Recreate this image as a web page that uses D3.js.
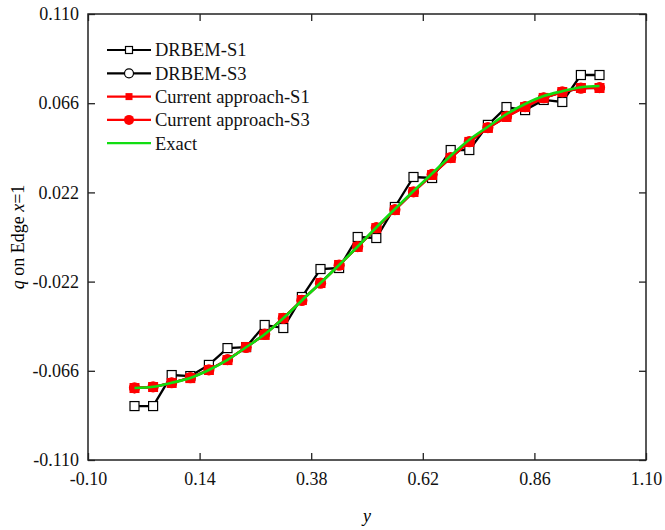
<!DOCTYPE html>
<html>
<head>
<meta charset="utf-8">
<script src="https://cdn.jsdelivr.net/npm/d3@7"></script>
<style>
  body { margin: 0; background: #fff; }
  svg { font-family: "Liberation Serif", "Times New Roman", serif; }
  .axis path { display: none; }
  .axis line { stroke: #222; stroke-width: 1.3; }
  .axis text { font-size: 18px; fill: #111; font-family: "Liberation Serif", "Times New Roman", serif; }
</style>
</head>
<body>
<svg width="665" height="530"></svg>
<script>
// sample points along the edge
var ys = [0, 0.04, 0.08, 0.12, 0.16, 0.20, 0.24, 0.28, 0.32, 0.36, 0.40, 0.44, 0.48,
          0.52, 0.56, 0.60, 0.64, 0.68, 0.72, 0.76, 0.80, 0.84, 0.88, 0.92, 0.96, 1.00];

var drbemS1 = [-0.0834, -0.0834, -0.0681, -0.0686, -0.0631, -0.0548, -0.0543, -0.0434, -0.0449,
               -0.0296, -0.0158, -0.0153, 0.0000, -0.0005, 0.0148, 0.0296, 0.0291, 0.0429,
               0.0429, 0.0553, 0.0641, 0.0626, 0.0676, 0.0666, 0.0799, 0.0799];

var drbemS3 = [-0.0745, -0.0740, -0.0720, -0.0695, -0.0656, -0.0606, -0.0544, -0.0480, -0.0400,
               -0.0312, -0.0227, -0.0138, -0.0048, 0.0045, 0.0134, 0.0222, 0.0308, 0.0391,
               0.0469, 0.0538, 0.0594, 0.0642, 0.0686, 0.0714, 0.0734, 0.0736];

var currentS1 = [-0.0745, -0.0740, -0.0720, -0.0696, -0.0656, -0.0607, -0.0543, -0.0483, -0.0400,
                 -0.0311, -0.0227, -0.0138, -0.0049, 0.0044, 0.0133, 0.0222, 0.0306, 0.0390,
                 0.0469, 0.0538, 0.0592, 0.0641, 0.0686, 0.0715, 0.0735, 0.0735];

var currentS3 = [-0.0744, -0.0739, -0.0719, -0.0694, -0.0655, -0.0605, -0.0545, -0.0479, -0.0401,
                 -0.0313, -0.0228, -0.0139, -0.0047, 0.0046, 0.0135, 0.0223, 0.0309, 0.0392,
                 0.0470, 0.0540, 0.0595, 0.0643, 0.0687, 0.0716, 0.0734, 0.0737];

var exact = [-0.0745, -0.0739, -0.0719, -0.0695, -0.0656, -0.0606, -0.0544, -0.0480, -0.0401,
             -0.0313, -0.0227, -0.0138, -0.0047, 0.0047, 0.0138, 0.0227, 0.0313, 0.0401,
             0.0480, 0.0544, 0.0606, 0.0656, 0.0695, 0.0719, 0.0739, 0.0745];

var xTicks = [-0.10, 0.14, 0.38, 0.62, 0.86, 1.10];
var yTicks = [-0.110, -0.066, -0.022, 0.022, 0.066, 0.110];

var legendNames = ["DRBEM-S1", "DRBEM-S3", "Current approach-S1", "Current approach-S3", "Exact"];

var box = { left: 88, right: 646, top: 14, bottom: 460 };

var x = d3.scaleLinear().domain([-0.1, 1.1]).range([box.left, box.right]),
    y = d3.scaleLinear().domain([-0.11, 0.11]).range([box.bottom, box.top]);

var svg = d3.select("svg");

// axes with inward ticks
svg.append("g").attr("class", "axis")
    .attr("transform", "translate(0," + box.bottom + ")")
    .call(d3.axisBottom(x).tickValues(xTicks).tickSizeInner(-7).tickSizeOuter(0).tickPadding(12)
        .tickFormat(function(d) { return d.toFixed(2); }));

svg.append("g").attr("class", "axis")
    .attr("transform", "translate(0," + box.top + ")")
    .call(d3.axisTop(x).tickValues(xTicks).tickSizeInner(-7).tickSizeOuter(0).tickFormat(""));

svg.append("g").attr("class", "axis")
    .attr("transform", "translate(" + box.left + ",0)")
    .call(d3.axisLeft(y).tickValues(yTicks).tickSizeInner(-7).tickSizeOuter(0).tickPadding(9)
        .tickFormat(function(d) { return d.toFixed(3); }));

svg.append("g").attr("class", "axis")
    .attr("transform", "translate(" + box.right + ",0)")
    .call(d3.axisRight(y).tickValues(yTicks).tickSizeInner(-7).tickSizeOuter(0).tickFormat(""));

svg.append("rect")
    .attr("x", box.left).attr("y", box.top)
    .attr("width", box.right - box.left).attr("height", box.bottom - box.top)
    .attr("fill", "none").attr("stroke", "#222").attr("stroke-width", 1.5);

// axis titles
svg.append("text")
    .attr("x", (box.left + box.right) / 2).attr("y", 522)
    .attr("text-anchor", "middle")
    .style("font-size", "18px").style("font-style", "italic")
    .text("y");

var yl = svg.append("text")
    .attr("transform", "translate(24," + ((box.top + box.bottom) / 2) + ")rotate(-90)")
    .attr("text-anchor", "middle")
    .style("font-size", "18px");
yl.append("tspan").style("font-style", "italic").text("q");
yl.append("tspan").text(" on Edge ");
yl.append("tspan").style("font-style", "italic").text("x");
yl.append("tspan").text("=1");

function pts(vals) {
    return vals.map(function(v, i) { return [ys[i], v]; });
}

var line = d3.line().x(function(d) { return x(d[0]); }).y(function(d) { return y(d[1]); });
var smooth = d3.line().curve(d3.curveCatmullRom)
    .x(function(d) { return x(d[0]); }).y(function(d) { return y(d[1]); });

// DRBEM-S1
svg.append("path").datum(pts(drbemS1))
    .attr("d", line).attr("fill", "none").attr("stroke", "#000").attr("stroke-width", 2.3);
svg.selectAll(".sq1").data(pts(drbemS1)).enter().append("rect")
    .attr("x", function(d) { return x(d[0]) - 4.5; })
    .attr("y", function(d) { return y(d[1]) - 4.5; })
    .attr("width", 9).attr("height", 9)
    .attr("fill", "#fff").attr("stroke", "#000").attr("stroke-width", 1.2);

// DRBEM-S3
svg.append("path").datum(pts(drbemS3))
    .attr("d", line).attr("fill", "none").attr("stroke", "#000").attr("stroke-width", 2.3);
svg.selectAll(".ci3").data(pts(drbemS3)).enter().append("circle")
    .attr("cx", function(d) { return x(d[0]); })
    .attr("cy", function(d) { return y(d[1]); })
    .attr("r", 4.5)
    .attr("fill", "#fff").attr("stroke", "#000").attr("stroke-width", 1.2);

// Current approach-S1
svg.append("path").datum(pts(currentS1))
    .attr("d", line).attr("fill", "none").attr("stroke", "#ff0000").attr("stroke-width", 2.3);
svg.selectAll(".rs1").data(pts(currentS1)).enter().append("rect")
    .attr("x", function(d) { return x(d[0]) - 5; })
    .attr("y", function(d) { return y(d[1]) - 5; })
    .attr("width", 10).attr("height", 10)
    .attr("fill", "#ff0000");

// Current approach-S3
svg.append("path").datum(pts(currentS3))
    .attr("d", line).attr("fill", "none").attr("stroke", "#ff0000").attr("stroke-width", 2.3);
svg.selectAll(".rc3").data(pts(currentS3)).enter().append("circle")
    .attr("cx", function(d) { return x(d[0]); })
    .attr("cy", function(d) { return y(d[1]); })
    .attr("r", 5.6)
    .attr("fill", "#ff0000");

// Exact
svg.append("path").datum(pts(exact))
    .attr("d", smooth).attr("fill", "none").attr("stroke", "#11dd11").attr("stroke-width", 2.6);

// legend
var lg = svg.append("g").attr("transform", "translate(107,50)");
var lineColors = ["#000", "#000", "#ff0000", "#ff0000", "#11dd11"];
legendNames.forEach(function(name, i) {
    var g = lg.append("g").attr("transform", "translate(0," + (i * 23.3) + ")");
    g.append("line").attr("x1", 0).attr("x2", 44).attr("y1", 0).attr("y2", 0)
        .attr("stroke", lineColors[i]).attr("stroke-width", 2.2);
    if (i === 0) {
        g.append("rect").attr("x", 18.5).attr("y", -3.5).attr("width", 7).attr("height", 7)
            .attr("fill", "#fff").attr("stroke", "#000").attr("stroke-width", 1.2);
    } else if (i === 1) {
        g.append("circle").attr("cx", 22).attr("cy", 0).attr("r", 4.5)
            .attr("fill", "#fff").attr("stroke", "#000").attr("stroke-width", 1.2);
    } else if (i === 2) {
        g.append("rect").attr("x", 18.5).attr("y", -3.5).attr("width", 7).attr("height", 7)
            .attr("fill", "#ff0000");
    } else if (i === 3) {
        g.append("circle").attr("cx", 22).attr("cy", 0).attr("r", 5)
            .attr("fill", "#ff0000");
    }
    g.append("text").attr("x", 48).attr("y", 0).attr("dy", "0.35em")
        .style("font-size", "18.5px").attr("fill", "#111")
        .text(name);
});
</script>
</body>
</html>
